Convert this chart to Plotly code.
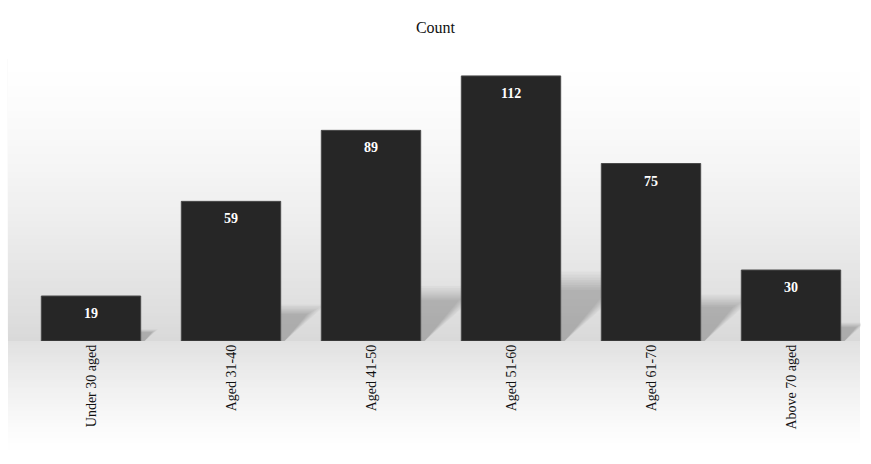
import plotly.graph_objects as go

categories = ["Under 30 aged", "Aged 31-40", "Aged 41-50", "Aged 51-60", "Aged 61-70", "Above 70 aged"]
counts = [19, 59, 89, 112, 75, 30]
title_text = "Count"

FONT = "Liberation Serif, Times New Roman, serif"
BAR_COLOR = "#262626"

fig = go.Figure()
fig.add_trace(go.Bar(
    x=list(range(len(categories))), y=counts,
    marker=dict(color=BAR_COLOR, line=dict(color="#4a4a4a", width=1)),
    width=0.71, hoverinfo="skip", showlegend=False,
))

shapes = []
X0P, X1P = -0.0155, 0.9988
# background gradient above baseline (paper coords), stacked to avoid seams
n = 80
y0p, y1p = 0.0, 0.996
for k in range(n):
    a = y0p + (y1p - y0p) * k / n
    f = 1 - (k + 0.5) / n  # 1 near baseline, 0 at top
    g = int(round(255 - 38 * f ** 1.4))
    shapes.append(dict(type="rect", xref="paper", yref="paper", x0=X0P, x1=X1P,
                       y0=a, y1=y1p, fillcolor=f"rgb({g},{g},{g})", line=dict(width=0), layer="below"))
# floor gradient below baseline
m = 50
fb = -0.40
for k in range(m):
    top = fb * k / m
    f = 1 - (k + 0.5) / m
    g = int(round(255 - 30 * f ** 1.3))
    shapes.append(dict(type="rect", xref="paper", yref="paper", x0=X0P, x1=X1P,
                       y0=fb, y1=top, fillcolor=f"rgb({g},{g},{g})", line=dict(width=0), layer="below"))

# soft shadows to the right of each bar
PX_X = 140.0   # pixels per category unit
PX_Y = 265.0 / 112.0  # pixels per value unit
for i, v in enumerate(counts):
    xr = i + 0.355
    h = v * 0.23
    for s in [1.14, 1.09, 1.04, 1.0, 0.96, 0.92, 0.88, 0.84]:
        top = h * s
        hpx = top * PX_Y
        dx = (4 + hpx * s) / PX_X
        path = f"M {xr},0 L {xr},{top} L {xr + dx},{top} L {xr + 4 / PX_X},0 Z"
        shapes.append(dict(type="path", xref="x", yref="y", path=path,
                           fillcolor="rgba(0,0,0,0.028)", line=dict(width=0), layer="below"))

annotations = []
for i, v in enumerate(counts):
    annotations.append(dict(x=i, y=v, xref="x", yref="y", text=f"<b>{v}</b>", showarrow=False,
                            yanchor="top", yshift=-8,
                            font=dict(family=FONT, size=14, color="#ffffff")))

fig.update_layout(
    width=871, height=464,
    margin=dict(l=21, r=10, t=57, b=123),
    paper_bgcolor="#ffffff", plot_bgcolor="rgba(0,0,0,0)",
    title=dict(text=title_text, x=0.5, xanchor="center", y=1 - 27 / 464, yanchor="middle",
               font=dict(family=FONT, size=16, color="#111111")),
    shapes=shapes, annotations=annotations,
    bargap=0.29,
)
fig.update_xaxes(range=[-0.5, len(categories) - 0.5], tickmode="array",
                 tickvals=list(range(len(categories))), ticktext=categories,
                 tickangle=-90, showgrid=False, zeroline=False, showline=False, ticks="",
                 tickfont=dict(family=FONT, size=14, color="#111111"))
fig.update_yaxes(range=[0, 120], visible=False, showgrid=False, zeroline=False)

fig.write_html("out.html")
